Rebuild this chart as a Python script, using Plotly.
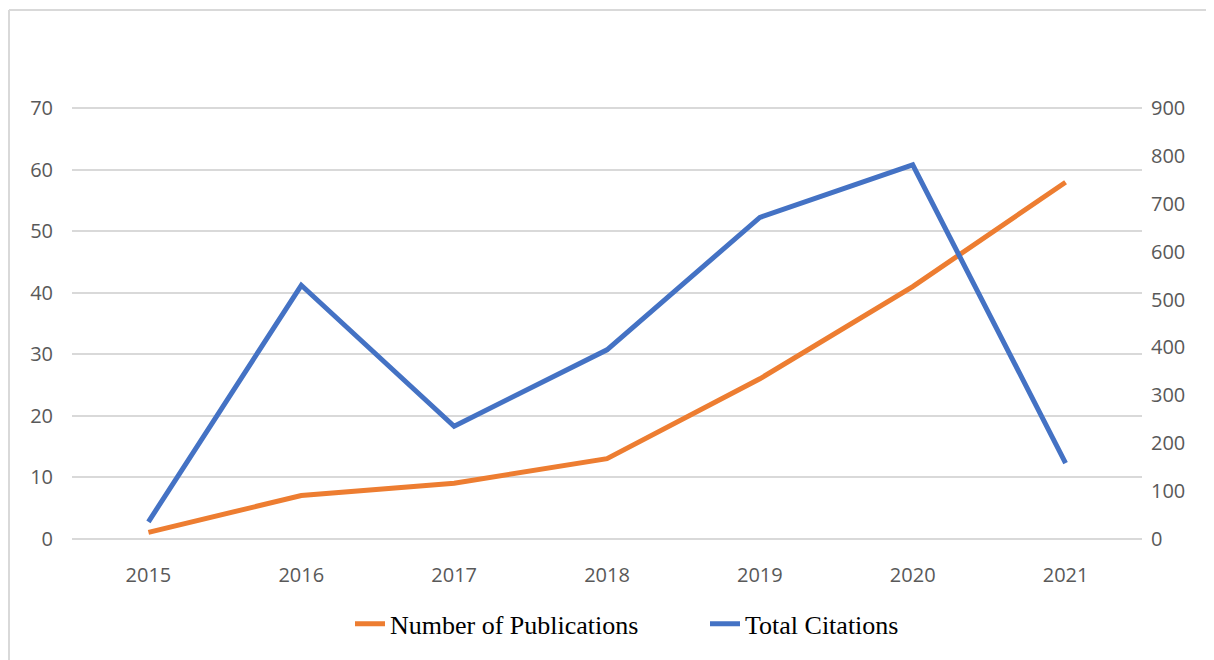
import plotly.graph_objects as go

years = ["2015", "2016", "2017", "2018", "2019", "2020", "2021"]
publications = [1, 7, 9, 13, 26, 41, 58]
citations = [35, 530, 235, 395, 672, 782, 158]

# page is rendered with an 8px body margin, so work in figure coordinates
OFF = 8
Y_TOP, Y_BOT = 108, 541          # page y of 70 / 0 on the left axis
EPS = 0.4                        # small range padding so edge gridlines are drawn
ppu = (Y_BOT - Y_TOP) / 70.0
pad = EPS * ppu

W, H = 1214 - OFF, 660 - OFF
L, T = 72 - OFF, Y_TOP - OFF - pad
R = W - (1142 - OFF)
B = H - (Y_BOT - OFF) - pad
pw, ph = W - L - R, H - T - B

def px_x(x):
    return (x - OFF - L) / pw

def px_y(y):
    return (H - B - (y - OFF)) / ph

fig = go.Figure()
fig.add_trace(go.Scatter(
    x=years, y=publications, name="Number of Publications",
    mode="lines", line=dict(color="#ED7D31", width=5), yaxis="y", legend="legend"))
fig.add_trace(go.Scatter(
    x=years, y=citations, name="Total Citations",
    mode="lines", line=dict(color="#4472C4", width=5), yaxis="y2", legend="legend2"))

tickfont = dict(family="Open Sans", size=20, color="#595959")
legfont = dict(family="Liberation Serif", size=26, color="black")

fig.update_layout(
    width=W, height=H,
    margin=dict(l=L, r=R, t=T, b=B),
    paper_bgcolor="white", plot_bgcolor="white",
    showlegend=True,
    legend=dict(x=px_x(350), xanchor="left", y=px_y(627), yanchor="middle",
                font=legfont, bgcolor="rgba(0,0,0,0)", itemwidth=30),
    legend2=dict(x=px_x(705), xanchor="left", y=px_y(627), yanchor="middle",
                 font=legfont, bgcolor="rgba(0,0,0,0)", itemwidth=30),
    xaxis=dict(type="category", range=[-0.5, 6.5], showgrid=False, zeroline=False,
               showline=False, ticks="outside", ticklen=16, tickcolor="rgba(0,0,0,0)",
               tickfont=tickfont),
    yaxis=dict(range=[-EPS, 70 + EPS], dtick=10, showgrid=True, gridcolor="#d9d9d9",
               gridwidth=2, zeroline=False, showline=False, ticks="outside", ticklen=14,
               tickcolor="rgba(0,0,0,0)", tickfont=tickfont),
    yaxis2=dict(range=[-EPS * 900 / 70, 900 + EPS * 900 / 70], dtick=100, overlaying="y",
                side="right", showgrid=False, zeroline=False, showline=False,
                ticks="outside", ticklen=4, tickcolor="rgba(0,0,0,0)", tickfont=tickfont),
    shapes=[
        dict(type="line", xref="paper", yref="paper", x0=px_x(9), x1=px_x(9),
             y0=px_y(9), y1=px_y(670), line=dict(color="#d9d9d9", width=2)),
        dict(type="line", xref="paper", yref="paper", x0=px_x(9), x1=px_x(1230),
             y0=px_y(9), y1=px_y(9), line=dict(color="#d9d9d9", width=2)),
    ],
)

fig.write_html("out.html")
